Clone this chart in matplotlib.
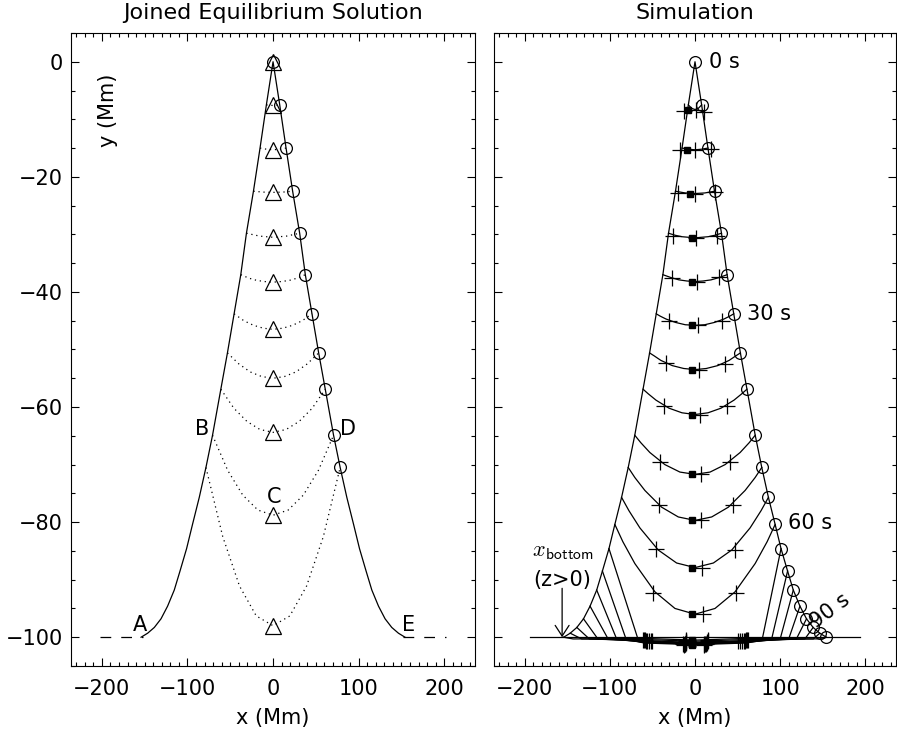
import numpy as np
import matplotlib
matplotlib.use("Agg")
import matplotlib.pyplot as plt
from matplotlib.ticker import MultipleLocator

# outer profile, right half (mirrored for the left); the same points are
# the circles of the simulation, one every 5 s
prof_x = [0, 7.8, 15.2, 22.9, 31.1, 37.7, 45.5, 53.3, 61.0, 70.7, 78.4,
          86.2, 94.1, 101.0, 108.7, 115.4, 123.2, 130.9, 138.7, 146.5, 154.2]
prof_y = [0, -7.5, -15.0, -22.5, -29.8, -37.0, -43.8, -50.6, -56.9, -64.9, -70.5,
          -75.7, -80.4, -84.6, -88.5, -91.8, -94.6, -96.8, -98.3, -99.3, -100.0]

# left panel: triangles on x=0 and dotted lines (right halves)
tri_y = [0, -7.6, -15.3, -22.7, -30.5, -38.3, -46.5, -55.0, -64.4, -78.8, -98.0]
dot_x = [[0, 7.8],
         [0, 7.6, 15.2],
         [0, 11.5, 22.9],
         [0, 15.6, 31.1],
         [0, 9.4, 18.9, 28.3, 37.7],
         [0, 11.4, 22.8, 34.1, 45.5],
         [0, 13.3, 26.7, 40.0, 53.3],
         [0, 15.3, 30.5, 45.8, 61.0],
         [0, 17.7, 35.4, 53.0, 70.7],
         [0, 19.6, 39.2, 58.8, 78.4]]
dot_y = [[-7.6, -7.5],
         [-15.3, -15.2, -15.0],
         [-22.7, -22.65, -22.5],
         [-30.5, -30.3, -29.8],
         [-38.3, -38.2, -38.0, -37.6, -37.0],
         [-46.5, -46.3, -45.8, -45.0, -43.8],
         [-55.0, -54.7, -53.9, -52.5, -50.6],
         [-64.4, -63.9, -62.5, -60.2, -56.9],
         [-78.8, -77.9, -75.3, -71.0, -64.9],
         [-98.0, -96.3, -91.1, -82.5, -70.5]]
base_l = [-202, -152]
base_r = [152, 202]

# right panel: loop snapshots every 5 s, 5..60 s (right halves)
snap_x = [[0, 3.9, 7.8],
          [0, 7.6, 15.2],
          [0, 11.5, 22.9],
          [0, 15.6, 23.3, 31.1],
          [0, 9.4, 18.9, 28.3, 37.7],
          [0, 11.4, 22.8, 34.1, 40.9, 45.5],
          [0, 13.3, 26.7, 40.0, 48.0, 53.3],
          [0, 15.3, 30.5, 45.8, 54.9, 61.0],
          [0, 17.7, 35.4, 53.0, 63.6, 70.7],
          [0, 19.6, 39.2, 58.8, 70.6, 78.4],
          [0, 21.6, 43.1, 64.7, 77.6, 86.2],
          [0, 23.5, 47.1, 70.6, 84.7, 94.1]]
snap_y = [[-8.3, -8.1, -7.5],
          [-15.3, -15.2, -15.0],
          [-22.9, -22.8, -22.5],
          [-30.6, -30.4, -30.15, -29.8],
          [-38.2, -38.1, -37.9, -37.5, -37.0],
          [-45.8, -45.7, -45.3, -44.7, -44.2, -43.8],
          [-53.5, -53.3, -52.8, -51.9, -51.1, -50.6],
          [-61.3, -61.0, -60.2, -58.8, -57.7, -56.9],
          [-71.7, -71.3, -70.0, -67.9, -66.2, -64.9],
          [-79.7, -79.1, -77.4, -74.5, -72.25, -70.5],
          [-87.9, -87.1, -84.85, -81.0, -78.0, -75.7],
          [-96.0, -95.0, -92.1, -87.2, -83.4, -80.4]]

# snapshots 65..100 s lying on the bottom: feet and sag
foot_l = [-67, -81, -92, -102, -114, -124, -133, -143]
foot_r = [79, 90, 100, 110, 119, 129, 139, 150]
sag_y = [-101.2, -101.3, -101.2, -101.1, -101.0, -100.9, -100.7, -100.5]

# markers of the snapshots 5..100 s
pl_x = [-13.2, -17.5, -20.2, -25.6, -27.2, -30.3, -34.2, -36.9, -40.8, -42.8, -45.5, -49.0,
        -50, -52, -54, -56, -58, -59, -60, -61]
pl_y = [-8.5, -15.3, -22.8, -30.2, -37.6, -45.1, -52.4, -59.8, -69.6, -77.1, -84.7, -92.4,
        -100.6, -100.7, -100.7, -100.6, -100.6, -100.5, -100.5, -100.4]
pr_x = [10.5, 18.3, 24.0, 26.0, 28.0, 31.8, 35.0, 37.6, 41.6, 44.3, 47.4, 48.2,
        51, 53, 55, 57, 59, 60, 61, 62]
pr_y = [-8.8, -15.2, -22.6, -30.2, -37.4, -45.1, -52.5, -59.8, -69.6, -77.1, -84.8, -92.4,
        -100.6, -100.7, -100.7, -100.6, -100.6, -100.5, -100.5, -100.4]
pc_x = [0.8, 0.5, 0.5, 0.8, 2.0, 3.8, 4.7, 5.5, 6.6, 6.6, 7.8, 9.3,
        10, 11, 12, 13, 14, 14, 15, 15]
pc_y = [-8.3, -15.3, -22.9, -30.6, -38.2, -45.8, -53.5, -61.3, -71.7, -79.7, -87.9, -96.0,
        -101.2, -101.3, -101.2, -101.1, -101.0, -100.9, -100.7, -100.5]
sq_x = [-8.0, -9.0, -5.8, -3.1, -3.1, -3.1, -3.1, -3.1, -3.1, -3.1, -3.1, -3.1,
        -3.1, -3.1, -3.1, -3.1, -3.1, -3.1, -3.1, -3.1]
sq_y = pc_y
pc2_x = [-14, -13, -12, -12, -11, -11, -10, -10]

plt.rcParams['font.family'] = ['DejaVu Sans']
plt.rcParams['mathtext.fontset'] = 'cm'
fs = 15
lw = 0.9

fig = plt.figure(figsize=(8.97, 7.36), dpi=100)
ax1 = fig.add_axes([0.0792, 0.0951, 0.4504, 0.8601])
ax2 = fig.add_axes([0.5507, 0.0951, 0.4482, 0.8601])

px = np.array(prof_x)
py = np.array(prof_y)
full_x = np.concatenate((-px[::-1], px[1:]))
full_y = np.concatenate((py[::-1], py[1:]))

# ---- left panel
ax = ax1
ax.plot(full_x, full_y, color='k', lw=lw)
ax.plot(base_l, [-100, -100], color='k', lw=lw, ls=(0, (8.6, 8)))
ax.plot(base_r, [-100, -100], color='k', lw=lw, ls=(0, (8.6, 8)))
for xs, ys in zip(dot_x, dot_y):
    xs = np.array(xs)
    ys = np.array(ys)
    ax.plot(np.concatenate((-xs[::-1], xs[1:])), np.concatenate((ys[::-1], ys[1:])),
            color='k', lw=lw, ls=(0, (1, 3)))
ax.plot(np.zeros(len(tri_y)), tri_y, ls='none', marker='^', ms=11, mfc='none',
        mec='k', mew=lw)
ax.plot(prof_x[:11], prof_y[:11], ls='none', marker='o', ms=8.5, mfc='none',
        mec='k', mew=lw)
for lab, x, y in [('A', -155, -97.9), ('B', -82.8, -63.9), ('C', 1.5, -75.6),
                  ('D', 87.9, -63.9), ('E', 157.9, -97.9)]:
    ax.text(x, y, lab, fontsize=fs, ha='center', va='center')
ax.text(-192.5, -8.5, 'y (Mm)', fontsize=fs, rotation=90, ha='center', va='center')
ax.set_title('Joined Equilibrium Solution', fontsize=16, pad=10)

# ---- right panel
ax = ax2
ax.plot(full_x, full_y, color='k', lw=lw)
ax.plot([-194, 194], [-100, -100], color='k', lw=lw)
for xs, ys in zip(snap_x, snap_y):
    xs = np.array(xs)
    ys = np.array(ys)
    ax.plot(np.concatenate((-xs[::-1], xs[1:])), np.concatenate((ys[::-1], ys[1:])),
            color='k', lw=lw)
for k in range(len(foot_l)):
    i = 13 + k
    xs = [-prof_x[i], foot_l[k], -60, 0, 60, foot_r[k], prof_x[i]]
    ys = [prof_y[i], -100.3, sag_y[k] + 0.3, sag_y[k], sag_y[k] + 0.3, -100.3, prof_y[i]]
    ax.plot(xs, ys, color='k', lw=lw)
ax.plot(prof_x, prof_y, ls='none', marker='o', ms=8.5, mfc='none', mec='k', mew=lw)
pk = dict(ls='none', marker='+', ms=11, mec='k', mew=lw)
ax.plot(pl_x, pl_y, **pk)
ax.plot(pr_x, pr_y, **pk)
ax.plot(pc_x, pc_y, **pk)
ax.plot(pc2_x, sag_y, **pk)
ax.plot(sq_x, sq_y, ls='none', marker='s', ms=4, mfc='k', mec='k')
ax.text(16, 0, '0 s', fontsize=fs, va='center')
ax.text(61, -43.8, '30 s', fontsize=fs, va='center')
ax.text(109.6, -80.2, '60 s', fontsize=fs, va='center')
ax.text(159, -95.4, '90 s', fontsize=fs, rotation=37, ha='center', va='center')
ax.annotate('', xy=(-156, -100), xytext=(-156, -91.5),
            arrowprops=dict(arrowstyle='->,head_length=0.77,head_width=0.5',
                            lw=lw, color='k', mutation_scale=10, shrinkA=0, shrinkB=0))
ax.text(-156.5, -90, '(z>0)', fontsize=fs, ha='center', va='center')
ax.text(-154.6, -85.2, r'$\mathbf{\mathit{x}}_{\mathsf{bottom}}$', fontsize=16,
        ha='center', va='center')
ax.set_title('Simulation', fontsize=16, pad=10)

for ax in (ax1, ax2):
    ax.set_xlim(-236, 236)
    ax.set_ylim(-105, 5)
    ax.xaxis.set_major_locator(MultipleLocator(100))
    ax.xaxis.set_minor_locator(MultipleLocator(10))
    ax.yaxis.set_major_locator(MultipleLocator(20))
    ax.yaxis.set_minor_locator(MultipleLocator(5))
    ax.tick_params(which='both', direction='in', top=True, right=True, width=0.8,
                   labelsize=fs)
    ax.tick_params(which='major', length=6)
    ax.tick_params(which='minor', length=3)
    ax.tick_params(axis='x', pad=9)
    ax.tick_params(axis='y', pad=6)
    for s in ax.spines.values():
        s.set_linewidth(0.8)
    ax.set_xlabel('x (Mm)', fontsize=fs, labelpad=7)
ax2.set_yticklabels([])

fig.savefig('out.png', dpi=100)
